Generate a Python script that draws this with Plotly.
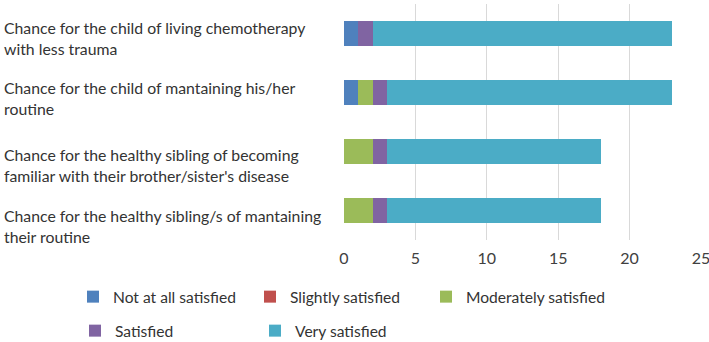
import plotly.graph_objects as go

categories = [
    "Chance for the child of living chemotherapy<br>with less trauma",
    "Chance for the child of mantaining his/her<br>routine",
    "Chance for the healthy sibling of becoming<br>familiar with their brother/sister's disease",
    "Chance for the healthy sibling/s of mantaining<br>their routine",
]
series_names = ["Not at all satisfied", "Slightly satisfied", "Moderately satisfied", "Satisfied", "Very satisfied"]
not_at_all = [1, 1, 0, 0]
slightly = [0, 0, 0, 0]
moderately = [0, 1, 2, 2]
satisfied = [1, 1, 1, 1]
very_satisfied = [21, 20, 15, 15]
x_ticks = [0, 5, 10, 15, 20, 25]

values = [not_at_all, slightly, moderately, satisfied, very_satisfied]
colors = ["#4F81BD", "#C0504D", "#9BBB59", "#8064A2", "#4BACC6"]
cat_ids = ["c0", "c1", "c2", "c3"]

W, H = 709, 342
ml, mr, mt, mb = 344, 8, 4, 102

fig = go.Figure()
legend_names = ["legend", "legend2", "legend3", "legend4", "legend5"]
for name, vals, col, lg in zip(series_names, values, colors, legend_names):
    fig.add_trace(go.Bar(
        y=cat_ids, x=vals, name=name, orientation="h",
        marker=dict(color=col, line=dict(width=0)),
        legend=lg,
    ))

font_family = "Lato, 'Open Sans', sans-serif"
txt_col = "#333333"

# legend text start x (px) and center y (px)
leg_px = [(113, 297), (290, 297), (466, 297), (115, 331), (295, 331)]
layout_legends = {}
for lg, (px, py) in zip(legend_names, leg_px):
    layout_legends[lg] = dict(
        x=(px - 40) / W, y=1 - py / H,
        xref="container", yref="container",
        xanchor="left", yanchor="middle",
        bgcolor="rgba(0,0,0,0)", borderwidth=0,
        font=dict(family=font_family, size=15.6, color=txt_col),
        itemwidth=30, tracegroupgap=0,
    )

label_shift = [-4, -5.5, -13.5, -15.5]
for cid, lab, sh in zip(cat_ids, categories, label_shift):
    fig.add_annotation(
        x=0, xref="paper", xshift=-342, xanchor="left",
        y=cid, yref="y", yshift=sh, yanchor="middle",
        text=lab, showarrow=False, align="left",
        font=dict(family=font_family, size=15.8, color=txt_col),
    )

fig.update_layout(
    width=W, height=H,
    margin=dict(l=ml, r=mr, t=mt, b=mb, autoexpand=False),
    barmode="stack", bargap=0.58,
    plot_bgcolor="white", paper_bgcolor="white",
    showlegend=True,
    **layout_legends,
)
fig.update_xaxes(
    range=[0, 25], tickvals=x_ticks, showgrid=True, gridcolor="#D9D9D9", gridwidth=1,
    zeroline=False, showline=False, ticks="", automargin=False,
    ticklabeloverflow="allow", ticklabelstandoff=7,
    tickfont=dict(family=font_family, size=16, color="#404040"),
)
fig.update_yaxes(
    autorange="reversed", showticklabels=False, showgrid=False, zeroline=False,
    showline=False, ticks="", automargin=False,
)
fig.write_html(
    "out.html",
    config={"displayModeBar": False},
    post_script="document.body.style.margin='0';document.body.style.overflow='hidden';",
)
